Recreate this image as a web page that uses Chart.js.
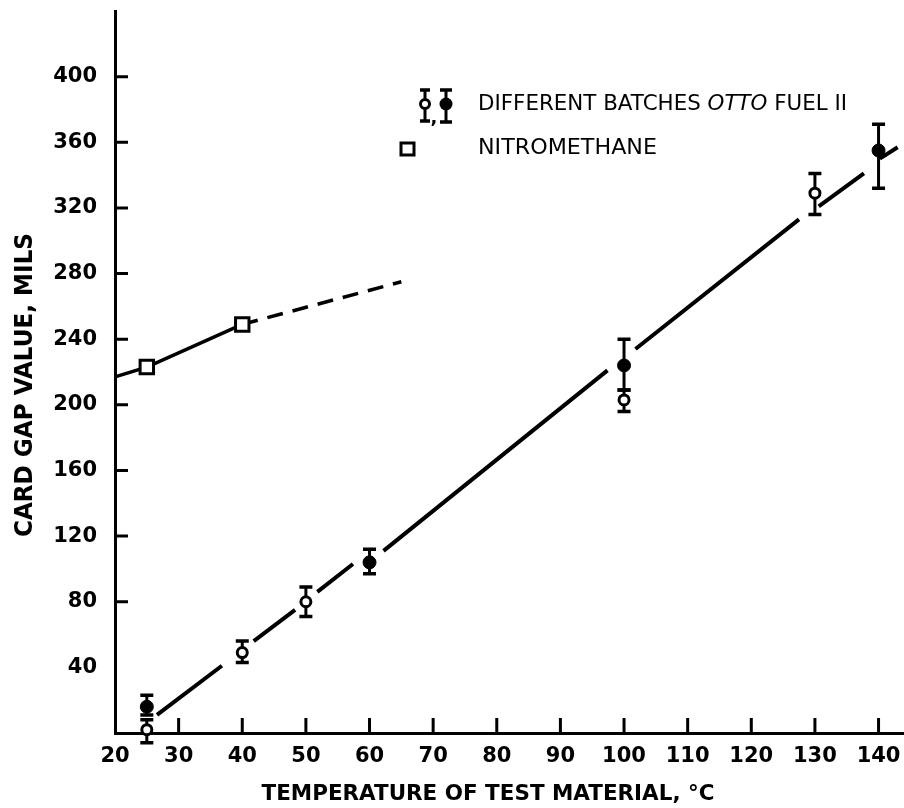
<!DOCTYPE html>
<html><head><meta charset="utf-8">
<script src="https://cdn.jsdelivr.net/npm/chart.js@4/dist/chart.umd.min.js"></script>
<style>html,body{margin:0;padding:0;background:#fff}#wrap{width:904px;height:808px}</style>
</head><body><div id="wrap"><canvas id="c" width="904" height="808"></canvas></div>
<script>
// ---- data ----
const xTicks = [20,30,40,50,60,70,80,90,100,110,120,130,140];
const yTicks = [40,80,120,160,200,240,280,320,360,400];

// Otto Fuel II, open circles
const openX  = [25, 40, 50, 100, 130];
const openY  = [2, 49, 80, 203, 329];
const openLo = [-6, 43, 71, 196, 316];
const openHi = [8, 56, 89, 209, 341];
// Otto Fuel II, filled circles
const fillX  = [25, 60, 100, 140];
const fillY  = [16, 104, 224, 355];
const fillLo = [11, 97, 209, 332];
const fillHi = [23, 112, 240, 371];
// Nitromethane
const nitroX = [25, 40];
const nitroY = [223, 249];
const nitroLineX = [20, 25, 40];
const nitroLineY = [217, 223, 249];
const nitroDashX = [40, 65];
const nitroDashY = [249, 275];
// Otto fit line, drawn in pieces broken around the markers
const fitStartX = [26.6, 41.8, 51.8, 62.2, 101.8, 130.6, 140.2];
const fitStartY = [11, 56, 86, 111, 234, 321, 350];
const fitEndX   = [36.8, 48.3, 57.4, 97.4, 127.5, 137.7, 143];
const fitEndY   = [41, 75, 103, 221, 313, 341, 357];

const pts = (xs, ys) => xs.map((x, i) => ({x, y: ys[i]}));
const fitData = [];
fitStartX.forEach((x, i) => {
  fitData.push({x, y: fitStartY[i]});
  fitData.push({x: fitEndX[i], y: fitEndY[i]});
  fitData.push({x: fitEndX[i], y: null});
});

const FONT = "'DejaVu Sans', 'Liberation Sans', sans-serif";

function drawScaledText(ctx, txt, x, y, font, targetW, align) {
  ctx.save();
  ctx.font = font;
  const w = ctx.measureText(txt).width;
  const s = targetW / w;
  ctx.translate(x, y);
  ctx.scale(s, 1);
  ctx.textAlign = align || 'center';
  ctx.textBaseline = 'middle';
  ctx.fillText(txt, 0, 0);
  ctx.restore();
}

function errBar(ctx, x, yTop, yBot, cap) {
  ctx.beginPath();
  ctx.lineWidth = 3;
  ctx.moveTo(x, yTop); ctx.lineTo(x, yBot);
  ctx.stroke();
  ctx.lineWidth = 3.5;
  ctx.beginPath();
  ctx.moveTo(x - cap, yTop); ctx.lineTo(x + cap, yTop);
  ctx.moveTo(x - cap, yBot); ctx.lineTo(x + cap, yBot);
  ctx.stroke();
}

const decor = {
  id: 'decor',
  beforeDatasetsDraw(chart) {
    const ctx = chart.ctx, xs = chart.scales.x, ys = chart.scales.y;
    ctx.save();
    ctx.strokeStyle = '#000';
    chart.data.datasets.forEach(ds => {
      if (!ds.errLo) return;
      ds.data.forEach((p, i) => {
        const px = xs.getPixelForValue(p.x);
        errBar(ctx, px, ys.getPixelForValue(ds.errHi[i]), ys.getPixelForValue(ds.errLo[i]), 6.5);
      });
    });
    ctx.restore();
  },
  afterDraw(chart) {
    const ctx = chart.ctx, xs = chart.scales.x, ys = chart.scales.y;
    const ca = chart.chartArea;
    ctx.save();
    ctx.strokeStyle = '#000';
    ctx.fillStyle = '#000';
    ctx.lineWidth = 3;
    // inward tick marks
    ctx.beginPath();
    xTicks.forEach(v => {
      if (v === 20) return;
      const px = xs.getPixelForValue(v);
      ctx.moveTo(px, ca.bottom); ctx.lineTo(px, ca.bottom - 15);
    });
    yTicks.forEach(v => {
      if (v === 40) return;
      const py = ys.getPixelForValue(v);
      ctx.moveTo(ca.left, py); ctx.lineTo(ca.left + 13, py);
    });
    ctx.stroke();

    // axis titles
    drawScaledText(ctx, 'TEMPERATURE OF TEST MATERIAL, °C', 488, 794, 'bold 22px ' + FONT, 453);
    ctx.save();
    ctx.translate(26, 385);
    ctx.rotate(-Math.PI / 2);
    drawScaledText(ctx, 'CARD GAP VALUE, MILS', 0, 0, 'bold 24px ' + FONT, 304);
    ctx.restore();

    // legend
    ctx.strokeStyle = '#000';
    errBar(ctx, 425, 90, 121, 5);
    ctx.beginPath(); ctx.lineWidth = 3; ctx.fillStyle = '#fff';
    ctx.arc(425, 104, 4.5, 0, Math.PI * 2); ctx.fill(); ctx.stroke();
    ctx.fillStyle = '#000';
    ctx.font = 'bold 18px ' + FONT; ctx.textAlign = 'center'; ctx.textBaseline = 'middle';
    ctx.fillText(',', 434, 118);
    errBar(ctx, 446, 90, 122, 6);
    ctx.beginPath(); ctx.arc(446, 104, 6.5, 0, Math.PI * 2); ctx.fill();
    ctx.lineWidth = 3; ctx.fillStyle = '#fff';
    ctx.beginPath(); ctx.rect(401, 143, 13, 12); ctx.fill(); ctx.stroke();
    ctx.fillStyle = '#000';

    // legend text line 1 (with italic OTTO)
    const part1 = 'DIFFERENT BATCHES ', part2 = 'OTTO', part3 = ' FUEL II';
    const f1 = '500 21px ' + FONT, f2 = 'italic 500 21px ' + FONT;
    ctx.font = f1; const w1 = ctx.measureText(part1).width, w3 = ctx.measureText(part3).width;
    ctx.font = f2; const w2 = ctx.measureText(part2).width;
    const s = (847 - 478) / (w1 + w2 + w3);
    ctx.save();
    ctx.translate(478, 105); ctx.scale(s, 1);
    ctx.textAlign = 'left'; ctx.textBaseline = 'middle';
    ctx.font = f1; ctx.fillText(part1, 0, 0);
    ctx.font = f2; ctx.fillText(part2, w1, 0);
    ctx.font = f1; ctx.fillText(part3, w1 + w2, 0);
    ctx.restore();
    drawScaledText(ctx, 'NITROMETHANE', 478, 149, '500 21px ' + FONT, 179, 'left');
    ctx.restore();
  }
};

new Chart(document.getElementById('c'), {
  type: 'scatter',
  data: {
    datasets: [
      { data: pts(openX, openY), errLo: openLo, errHi: openHi, showLine: false, clip: false,
        pointStyle: 'circle', pointRadius: 5, borderWidth: 3, borderColor: '#000', backgroundColor: '#fff' },
      { data: pts(fillX, fillY), errLo: fillLo, errHi: fillHi, showLine: false, clip: false,
        pointStyle: 'circle', pointRadius: 6.5, borderWidth: 1, borderColor: '#000', backgroundColor: '#000' },
      { data: pts(nitroX, nitroY), showLine: false, clip: false,
        pointStyle: 'rect', pointRadius: 9.5, borderWidth: 3, borderColor: '#000', backgroundColor: '#fff' },
      { data: pts(nitroLineX, nitroLineY), showLine: true, pointRadius: 0, borderWidth: 3.5, borderColor: '#000', clip: false },
      { data: pts(nitroDashX, nitroDashY), showLine: true, pointRadius: 0, borderWidth: 3.5, borderColor: '#000', borderDash: [16, 10], clip: false },
      { data: fitData, showLine: true, spanGaps: false, pointRadius: 0, borderWidth: 4, borderColor: '#000', clip: false }
    ]
  },
  options: {
    responsive: false,
    animation: false,
    devicePixelRatio: 1,
    layout: { autoPadding: false, padding: { top: 11, right: 0, left: 0, bottom: 0 } },
    plugins: { legend: { display: false }, tooltip: { enabled: false } },
    scales: {
      x: {
        type: 'linear', min: 20, max: 144,
        afterBuildTicks: sc => { sc.ticks = xTicks.map(v => ({value: v})); },
        afterFit: sc => { sc.height = 75; sc.paddingLeft = 0; sc.paddingRight = 0; },
        grid: { display: false, drawTicks: false },
        border: { display: true, color: '#000', width: 3 },
        ticks: { color: '#000', padding: 11, maxRotation: 0, autoSkip: false, includeBounds: false,
                 font: { family: FONT, size: 21, weight: 'bold' } }
      },
      y: {
        type: 'linear', min: 0, max: 440,
        afterBuildTicks: sc => { sc.ticks = yTicks.map(v => ({value: v})); },
        afterFit: sc => { sc.width = 115; sc.paddingTop = 0; sc.paddingBottom = 0; },
        grid: { display: false, drawTicks: false },
        border: { display: true, color: '#000', width: 3 },
        ticks: { color: '#000', padding: 18, autoSkip: false, includeBounds: false,
                 font: { family: FONT, size: 21, weight: 'bold' } }
      }
    }
  },
  plugins: [decor]
});
</script></body></html>
